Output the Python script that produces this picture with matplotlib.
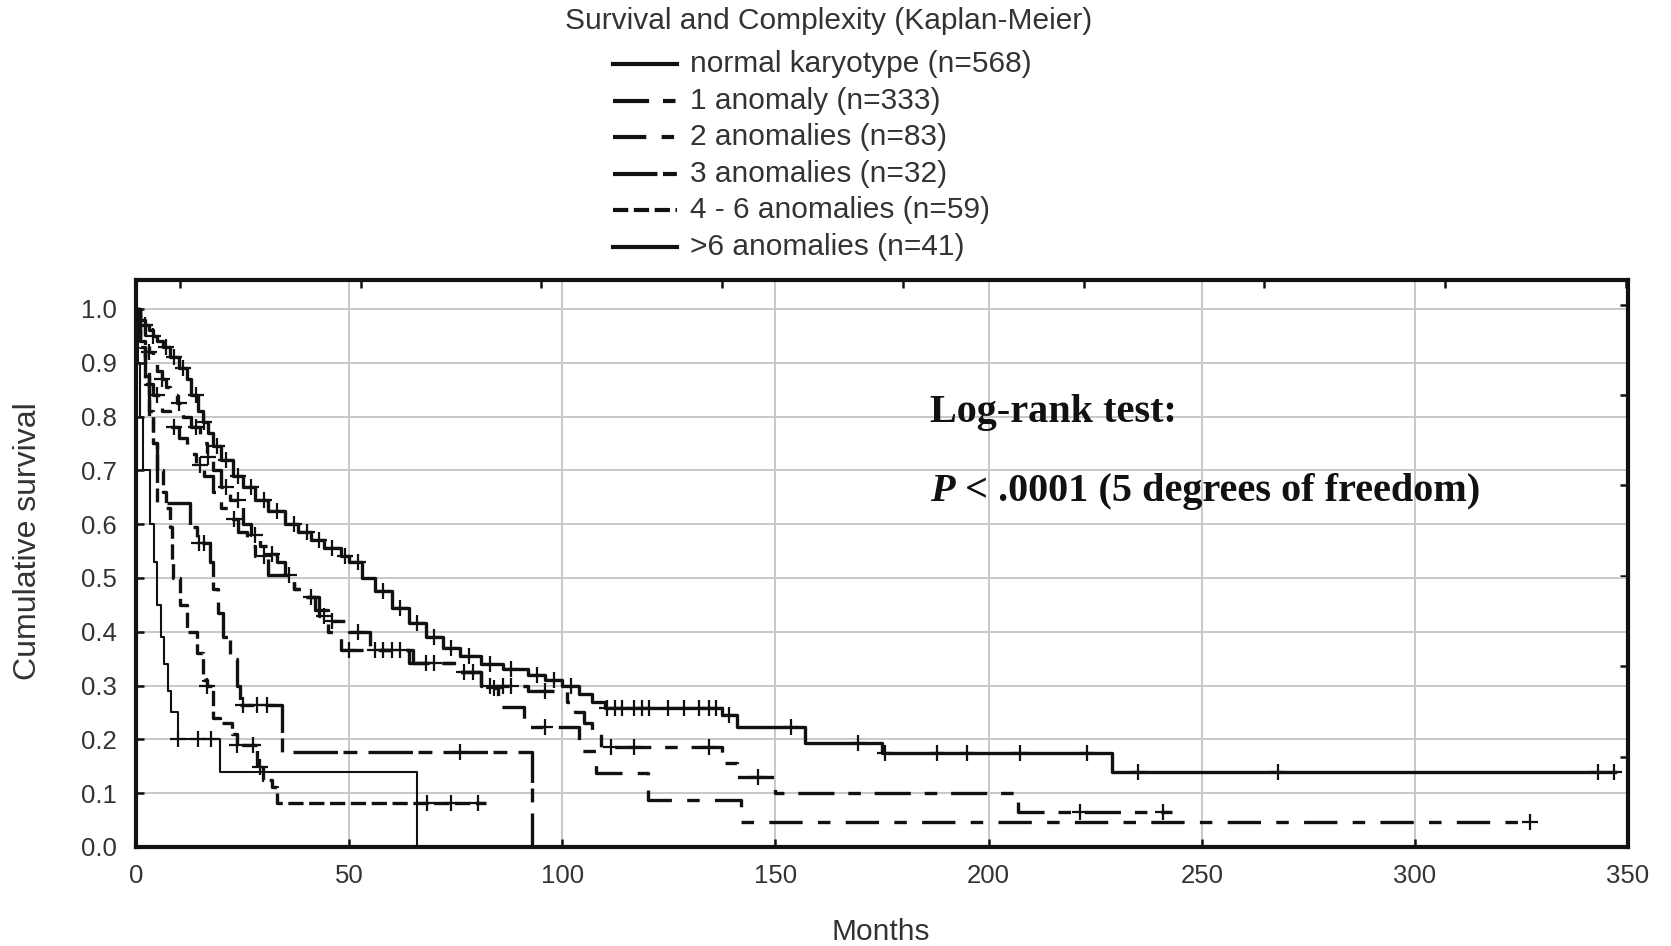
import numpy as np
import matplotlib
matplotlib.use("Agg")
import matplotlib.pyplot as plt
from matplotlib.lines import Line2D

plt.rcParams['font.family'] = ['Liberation Sans', 'DejaVu Sans']
plt.rcParams['lines.scale_dashes'] = False

# ---------------- data ----------------
labels = ["normal karyotype (n=568)", "1 anomaly (n=333)", "2 anomalies (n=83)",
          "3 anomalies (n=32)", "4 - 6 anomalies (n=59)", ">6 anomalies (n=41)"]

normal_t = [0, 0.5, 1, 2, 3, 4, 5, 6.3, 8, 10, 12, 13, 14.5, 15.7, 17, 18, 20, 22.8, 25, 28,
            31, 35, 38, 41, 44, 48, 50, 53, 56, 60, 64, 68, 72, 76, 81, 86, 92, 96, 100, 104,
            107, 110, 137.5, 141, 157, 175, 229, 347]
normal_s = [1.0, 0.99, 0.98, 0.97, 0.96, 0.95, 0.94, 0.93, 0.91, 0.89, 0.87, 0.84, 0.81, 0.79,
            0.77, 0.745, 0.72, 0.69, 0.67, 0.645, 0.625, 0.60, 0.585, 0.57, 0.555, 0.54, 0.53,
            0.50, 0.475, 0.445, 0.416, 0.39, 0.37, 0.355, 0.34, 0.33, 0.32, 0.31, 0.30, 0.285,
            0.27, 0.258, 0.245, 0.223, 0.193, 0.174, 0.139, 0.139]
normal_c = [2, 4, 7, 9, 11, 14, 16, 19, 21, 24, 27, 30, 33, 37, 40, 43, 46, 49, 52, 58, 62, 66,
            70, 74, 78, 83, 88, 94, 98, 102, 110.5, 112.4, 114, 116.8, 118.7, 120.3, 124.8,
            128.5, 132, 134.4, 136, 139, 153.7, 169.4, 175.7, 188, 195, 207.4, 223, 235, 268,
            343, 346.6]

one_t = [0, 1, 2, 3, 4, 5, 6, 7, 8, 9.6, 11, 13, 15, 16.6, 18, 20, 22, 25, 27, 29, 31, 33, 35,
         37, 39, 42, 45, 50, 55, 65, 75, 81, 92, 101, 103, 105, 107, 109, 137.5, 141, 150, 207,
         243]
one_s = [1.0, 0.97, 0.94, 0.92, 0.90, 0.885, 0.87, 0.855, 0.84, 0.825, 0.80, 0.78, 0.75, 0.725,
         0.70, 0.67, 0.645, 0.60, 0.58, 0.56, 0.545, 0.53, 0.505, 0.48, 0.465, 0.44, 0.42, 0.40,
         0.366, 0.342, 0.325, 0.30, 0.29, 0.27, 0.25, 0.23, 0.21, 0.186, 0.156, 0.13, 0.10,
         0.065, 0.065]
one_c = [3, 6, 10, 14, 17, 21, 24, 28, 32, 36, 41, 46, 52, 56, 58, 60, 68, 70, 77, 83, 86, 88,
         96, 111.4, 116.8, 134.4, 146, 221.5, 241]

two_t = [0, 0.5, 1, 2, 3, 4, 6, 8, 10, 12, 14, 16, 18, 20, 22, 24, 26, 28, 31, 37, 40, 43, 45,
         48, 64, 76, 81, 85, 91, 104, 108, 120, 142, 327]
two_s = [1.0, 0.96, 0.93, 0.89, 0.86, 0.84, 0.81, 0.78, 0.76, 0.73, 0.71, 0.69, 0.66, 0.63,
         0.61, 0.585, 0.56, 0.54, 0.505, 0.48, 0.465, 0.43, 0.40, 0.366, 0.342, 0.325, 0.295,
         0.26, 0.223, 0.178, 0.137, 0.087, 0.046, 0.046]
two_c = [5, 9, 15, 23, 30, 44, 50, 62, 79, 84, 96, 327]

three_t = [0, 1, 2, 3, 4, 5, 12.7, 14.2, 17.4, 18, 19.2, 20.4, 22, 23.6, 24.5, 34.3, 93]
three_s = [1.0, 0.94, 0.875, 0.81, 0.75, 0.64, 0.595, 0.565, 0.53, 0.48, 0.435, 0.39, 0.35,
           0.30, 0.264, 0.177, 0.0]
three_c = [14.8, 16, 25, 28.4, 30.7, 76]

four_t = [0, 1, 2, 3, 4, 5, 6.3, 7, 8, 8.4, 8.7, 10.3, 11.9, 14.2, 15.7, 16.6, 18, 19.7, 22.5,
          23.6, 28.3, 29.9, 32, 33, 82]
four_s = [1.0, 0.93, 0.86, 0.80, 0.75, 0.70, 0.66, 0.63, 0.595, 0.53, 0.50, 0.45, 0.40, 0.36,
          0.31, 0.30, 0.24, 0.23, 0.21, 0.19, 0.149, 0.124, 0.112, 0.082, 0.082]
four_c = [16.6, 23.6, 27.5, 29.1, 68.3, 74, 80.3]

six_t = [0, 0.5, 1, 1.7, 3.3, 4.2, 5.0, 5.8, 6.6, 7.4, 8.2, 9.9, 19.7, 66]
six_s = [1.0, 0.9, 0.8, 0.7, 0.6, 0.53, 0.45, 0.39, 0.34, 0.29, 0.25, 0.20, 0.14, 0.0]
six_c = [9.9, 14.6, 17.5]

x_ticks = [0, 50, 100, 150, 200, 250, 300, 350]
y_ticks = [0.0, 0.1, 0.2, 0.3, 0.4, 0.5, 0.6, 0.7, 0.8, 0.9, 1.0]

series = [(normal_t, normal_s, normal_c), (one_t, one_s, one_c), (two_t, two_s, two_c),
          (three_t, three_s, three_c), (four_t, four_s, four_c), (six_t, six_s, six_c)]

# ---------------- styles ----------------
styles = [dict(ls='-', lw=2.4),
          dict(ls=(0, (26, 10, 9, 10)), lw=2.4),
          dict(ls=(0, (24, 11, 9, 11)), lw=2.4),
          dict(ls=(0, (32, 4, 10, 8)), lw=2.4),
          dict(ls=(0, (11, 4)), lw=2.4),
          dict(ls='-', lw=1.5)]
ink = '#111111'
txt = '#333333'

fig = plt.figure(figsize=(16.71, 9.46), dpi=100)
ax = fig.add_axes([0.0814, 0.1047, 0.8929, 0.5994])

for (t, s, c), st in zip(series, styles):
    ax.step(t, s, where='post', color=ink, ls=st['ls'], lw=st['lw'], zorder=3)
    t_arr = np.asarray(t)
    s_arr = np.asarray(s)
    idx = np.searchsorted(t_arr, np.asarray(c), side='right') - 1
    cy = s_arr[np.clip(idx, 0, len(s_arr) - 1)]
    ax.plot(c, cy, ls='none', marker='+', ms=11, mew=1.6, color=ink, zorder=4)

ax.set_xlim(0, 350)
ax.set_ylim(0, 1.054)
ax.set_xticks(x_ticks)
ax.set_yticks(y_ticks)
ax.set_xticklabels([str(v) for v in x_ticks])
ax.set_yticklabels([f"{v:.1f}" for v in y_ticks])
ax.grid(True, color='#c8c8c8', lw=1.4, zorder=0)
ax.tick_params(axis='both', direction='in', length=6, width=1.8, labelsize=18.5,
               labelcolor=txt, color=ink)
ax.tick_params(axis='x', pad=12)
ax.tick_params(axis='y', pad=14)
for sp in ax.spines.values():
    sp.set_linewidth(3)
    sp.set_color(ink)

# secondary tick marks on top / right (STATISTICA-style)
top = ax.secondary_xaxis('top')
top.set_xticks([10.3 + 42.4 * k for k in range(9)])
top.set_xticklabels([])
top.tick_params(direction='in', length=6, width=1.8, color=ink)
right = ax.secondary_yaxis('right')
right.set_yticks([0.168 * k for k in range(1, 7)])
right.set_yticklabels([])
right.tick_params(direction='in', length=6, width=1.8, color=ink)
for sec in (top, right):
    for sp in sec.spines.values():
        sp.set_visible(False)

ax.set_ylabel("Cumulative survival", fontsize=23, color=txt)
ax.yaxis.set_label_coords(-0.0625, 0.54)
ax.set_xlabel("Months", fontsize=21.5, color=txt)
ax.xaxis.set_label_coords(0.4993, -0.125)

# Log-rank annotation
ax.text(186.3, 0.79, "Log-rank test:", family='Liberation Serif', weight='bold',
        fontsize=29, color=ink, va='baseline')
tp = ax.text(186.3, 0.643, "P", family='Liberation Serif', weight='bold', style='italic',
             fontsize=29, color=ink, va='baseline')
ax.annotate(" < .0001 (5 degrees of freedom)", xy=(1, 0), xycoords=tp, va='bottom',
            ha='left', family='Liberation Serif', weight='bold', fontsize=29, color=ink)

# Title and legend (manual, STATISTICA layout)
fig.text(0.496, 0.978, "Survival and Complexity (Kaplan-Meier)", ha='center', va='center',
         fontsize=21.5, color=txt)
for i, (lab, st) in enumerate(zip(labels, styles)):
    yf = 1 - (64 + 36.6 * i) / 946
    fig.add_artist(Line2D([0.3668, 0.4051], [yf, yf], transform=fig.transFigure,
                          color=ink, ls=st['ls'], lw=3))
    fig.text(0.4129, yf, lab, ha='left', va='center', fontsize=21.5, color=txt)

fig.savefig("out.png", dpi=100)
